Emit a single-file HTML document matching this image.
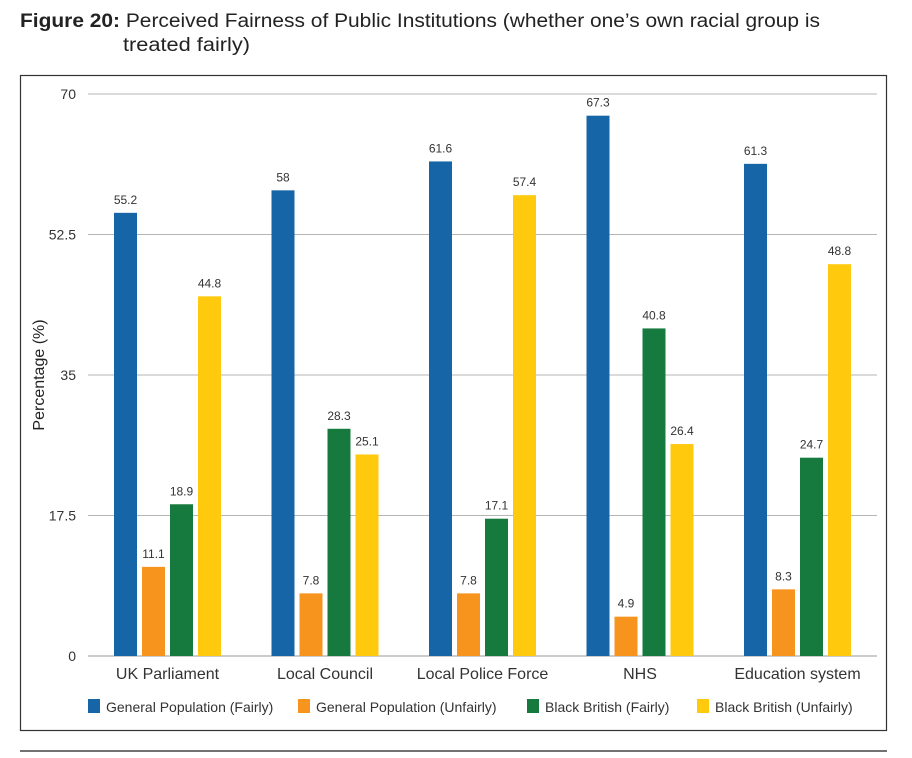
<!DOCTYPE html>
<html><head><meta charset="utf-8"><style>
body{margin:0;background:#fff;width:912px;height:753px;overflow:hidden;font-family:"Liberation Sans",sans-serif;}
svg text{font-family:"Liberation Sans",sans-serif;}
</style></head><body>
<svg width="912" height="753">
<text x="20" y="27" font-size="19" fill="#222" textLength="800" lengthAdjust="spacingAndGlyphs"><tspan font-weight="bold">Figure 20:</tspan> Perceived Fairness of Public Institutions (whether one’s own racial group is</text>
<text x="123" y="51" font-size="19" fill="#222" textLength="127" lengthAdjust="spacingAndGlyphs">treated fairly)</text>
<rect x="20.5" y="75.5" width="866" height="655" fill="none" stroke="#333" stroke-width="1.2"/>
<line x1="20" y1="751" x2="887" y2="751" stroke="#444" stroke-width="1.5"/>
<g id="grid"></g><g id="bars"></g><g id="legend"></g>
<text transform="translate(44,375) rotate(-90)" text-anchor="middle" font-size="16" fill="#222">Percentage (%)</text>
</svg>
<script>
const categories=["UK Parliament","Local Council","Local Police Force","NHS","Education system"];
const seriesNames=["General Population (Fairly)","General Population (Unfairly)","Black British (Fairly)","Black British (Unfairly)"];
const genFairly=[55.2,58,61.6,67.3,61.3];
const genUnfairly=[11.1,7.8,7.8,4.9,8.3];
const bbFairly=[18.9,28.3,17.1,40.8,24.7];
const bbUnfairly=[44.8,25.1,57.4,26.4,48.8];
const yTicks=[0,17.5,35,52.5,70];
const yTickLabels=["0","17.5","35","52.5","70"];
const colors=["#1565a7","#f7941d","#167a3e","#ffc90e"];
const NS="http://www.w3.org/2000/svg";
const x0=88,x1=877,yBase=656,yTop=94,yMax=70;
const y=v=>yBase-(v/yMax)*(yBase-yTop);
const groupW=157.5;
const gc=i=>167.5+groupW*i;
function mk(t,a,p){const e=document.createElementNS(NS,t);for(const k in a)e.setAttribute(k,a[k]);p.appendChild(e);return e;}
const grid=document.getElementById('grid');
yTicks.forEach((t,i)=>{
 const l=mk('line',{x1:x0,x2:x1,y1:y(t),y2:y(t),stroke:i==0?'#999':'#b5b5b5','stroke-width':1},grid);
 
 
 const tx=mk('text',{x:76,y:y(t)+5,'text-anchor':'end','font-size':14,fill:'#333'},grid);
 tx.textContent=yTickLabels[i];
 
 
});
const series=[genFairly,genUnfairly,bbFairly,bbUnfairly];
const bars=document.getElementById('bars');
const bw=23,step=28;
categories.forEach((c,i)=>{
 series.forEach((s,j)=>{
  const bx=gc(i)-53.5+j*step;
  const r=mk('rect',{x:bx,y:y(s[i]),width:bw,height:yBase-y(s[i]),fill:colors[j]},bars);
  
  
  const t=mk('text',{x:bx+bw/2,y:y(s[i])-9,'text-anchor':'middle','font-size':12,fill:'#333'},bars);
  t.textContent=String(s[i]);
  
  
 });
 const ct=mk('text',{x:gc(i),y:679,'text-anchor':'middle','font-size':16,fill:'#333'},bars);
 ct.textContent=c;
 
 
});
const lg=document.getElementById('legend');
const lx=[88,298,527,697];
seriesNames.forEach((n,j)=>{
 const r=mk('rect',{x:lx[j],y:699,width:12,height:14,fill:colors[j]},lg);
 
 
 const t=mk('text',{x:lx[j]+18,y:712,'font-size':14,fill:'#333'},lg);
 t.textContent=n;
 
 
});
</script>
</body></html>
